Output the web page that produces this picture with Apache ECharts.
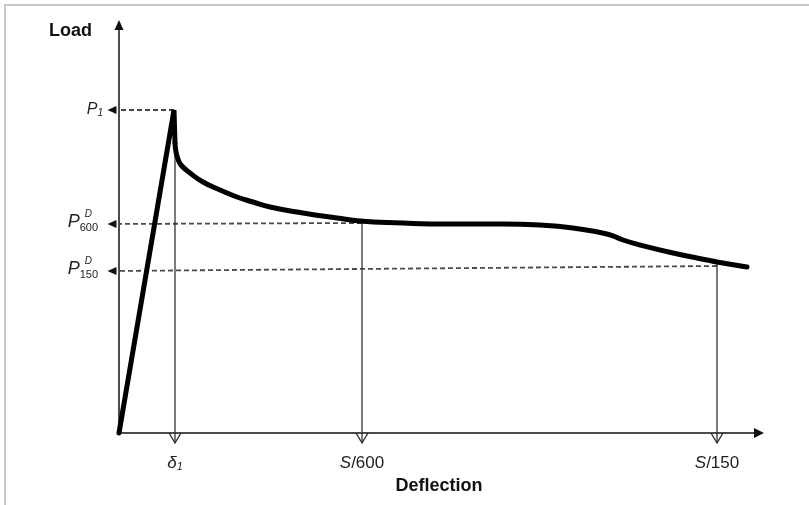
<!DOCTYPE html>
<html>
<head>
<meta charset="utf-8">
<script src="https://cdn.jsdelivr.net/npm/echarts@6.0.0/dist/echarts.min.js"></script>
<style>
  body { margin: 0; background: #fff; }
  #chart { position: absolute; left: 0; top: 0; width: 809px; height: 505px; }
  #frame { position: absolute; left: 4px; top: 4px; width: 820px; height: 520px;
           border-top: 2px solid #c8c8c8; border-left: 2px solid #c8c8c8; }
</style>
</head>
<body>
<div id="frame"></div>
<div id="chart"></div>
<script>
// load-deflection curve (x: deflection, y: load)
const loadRise = [[0, 0], [55, 323], [56, 290]];
const loadDecay = [[56, 290], [57, 281], [59, 274], [62, 268], [71, 260], [84, 251], [101, 243], [118, 236],
  [134, 231], [151, 226], [184, 220], [218, 215], [241, 212], [284, 210], [311, 209], [384, 209],
  [421, 208], [454, 205], [488, 199], [504, 193], [521, 188], [554, 180], [588, 173],
  [598, 171], [628, 166]];

// dashed load levels: where they leave the curve and where they meet the load axis
const levelCurveX = [55, 243, 598];
const levelCurveY = [323, 210, 167];
const levelAxisY = [323, 209, 162];
const levelSub = ['1', '600', '150'];

// deflection marks dropped onto the deflection axis
const markX = [56, 243, 598];
const markTopY = [323, 212, 170];
const markLabels = ['δ1', 'S/600', 'S/150'];

const arrowX = -7;
const tipY = -10;
const font = 'Liberation Sans, Arial, sans-serif';

let chart = echarts.init(document.getElementById('chart'));

let series = [
  {
    type: 'line', data: loadRise, symbol: 'none', clip: false, z: 5,
    lineStyle: { color: '#000', width: 5, cap: 'round' }
  },
  {
    type: 'line', data: loadDecay, symbol: 'none', clip: false, z: 5, smooth: 0.5,
    lineStyle: { color: '#000', width: 5, cap: 'round' }
  }
];

for (let i = 0; i < levelAxisY.length; i++) {
  series.push({
    type: 'line', clip: false, z: 3,
    data: [
      { value: [levelCurveX[i], levelCurveY[i]], symbol: 'none' },
      { value: [arrowX, levelAxisY[i]], symbol: 'triangle', symbolRotate: 90, symbolSize: [8, 9] }
    ],
    lineStyle: { color: '#4a4a4a', width: 1.8, type: [5, 3] },
    itemStyle: { color: '#111' }
  });
}

for (let i = 0; i < markX.length; i++) {
  series.push({
    type: 'line', clip: false, z: 3,
    data: [
      { value: [markX[i], markTopY[i]], symbol: 'none' },
      { value: [markX[i], tipY], symbol: 'path://M0,0L6,10L12,0', symbolSize: [12, 10], symbolOffset: [0, -5] }
    ],
    lineStyle: { color: '#333', width: 1.3 },
    itemStyle: { color: 'rgba(0,0,0,0)', borderColor: '#333', borderWidth: 1.3 }
  });
}

let option = {
  animation: false,
  grid: { left: 119, right: 50, top: 25, bottom: 72, outerBoundsMode: 'none' },
  xAxis: {
    type: 'value', min: 0, max: 640,
    name: 'Deflection', nameLocation: 'middle', nameGap: 40,
    nameTextStyle: { fontFamily: font, fontWeight: 'bold', fontSize: 18, color: '#111' },
    axisLine: { show: true, symbol: ['none', 'triangle'], symbolSize: [10, 10],
      lineStyle: { color: '#111', width: 1.5 } },
    axisTick: { show: false },
    splitLine: { show: false },
    axisLabel: {
      customValues: markX, margin: 21, color: '#222',
      formatter: (v) => {
        let i = markX.indexOf(v);
        if (i === 0) return '{it|δ}{sub|1}';
        return '{it|S}{n|' + markLabels[i].slice(1) + '}';
      },
      rich: {
        it: { fontFamily: font, fontStyle: 'italic', fontSize: 17, lineHeight: 18 },
        n: { fontFamily: font, fontSize: 17, lineHeight: 18 },
        sub: { fontFamily: font, fontStyle: 'italic', fontSize: 11, lineHeight: 8, verticalAlign: 'bottom' }
      }
    }
  },
  yAxis: [
    {
      type: 'value', min: 0, max: 408,
      name: 'Load', nameLocation: 'end', nameGap: -6,
      nameTextStyle: { fontFamily: font, fontWeight: 'bold', fontSize: 18, color: '#111',
        align: 'right', verticalAlign: 'middle', padding: [0, 27, 0, 0] },
      axisLine: { show: true, symbol: ['none', 'triangle'], symbolSize: [9, 10],
        lineStyle: { color: '#111', width: 1.5 } },
      axisTick: { show: false },
      splitLine: { show: false },
      axisLabel: {
        customValues: levelAxisY, margin: 16, color: '#222',
        formatter: (v) => {
          let i = levelAxisY.indexOf(v);
          if (i === 0) return '{p1|P}{s1|1}';
          return '{p|P}{sub|' + levelSub[i] + '}';
        },
        rich: {
          p1: { fontFamily: font, fontStyle: 'italic', fontSize: 16, lineHeight: 16 },
          s1: { fontFamily: font, fontStyle: 'italic', fontSize: 10, lineHeight: 8, verticalAlign: 'bottom' },
          p: { fontFamily: font, fontStyle: 'italic', fontSize: 18, lineHeight: 18, padding: [0, 0, 5, 0] },
          sub: { fontFamily: font, fontSize: 11, lineHeight: 8, verticalAlign: 'top', padding: [7, 5, 0, 0] }
        }
      }
    },
    {
      type: 'value', min: 0, max: 408, position: 'left',
      axisLine: { show: false }, axisTick: { show: false }, splitLine: { show: false },
      axisLabel: {
        customValues: levelAxisY.slice(1), margin: 27, color: '#222',
        formatter: () => '{d|D}',
        rich: {
          d: { fontFamily: font, fontStyle: 'italic', fontSize: 10, lineHeight: 10, padding: [0, 0, 19, 0] }
        }
      }
    }
  ],
  series: series
};

chart.setOption(option);
</script>
</body>
</html>
